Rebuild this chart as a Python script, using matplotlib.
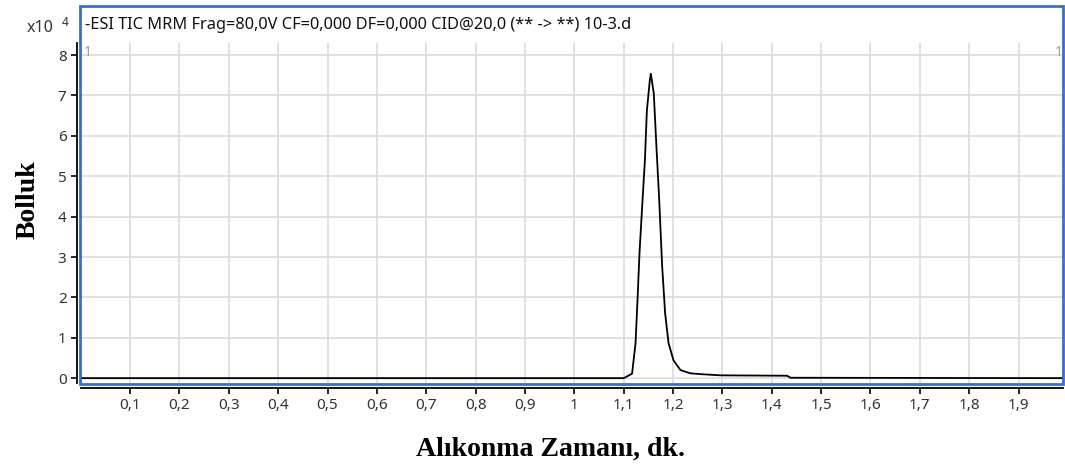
import matplotlib.pyplot as plt
from matplotlib.patches import Rectangle
from matplotlib.ticker import FuncFormatter

# chromatogram (abundance in x10^4)
time_min = [0.0, 1.100, 1.117, 1.124, 1.128, 1.132, 1.137, 1.143, 1.147, 1.153, 1.155,
            1.161, 1.166, 1.172, 1.178, 1.184, 1.191, 1.201, 1.215, 1.235, 1.255,
            1.296, 1.431, 1.438, 1.99]
abundance = [0.0, 0.0, 0.11, 0.86, 1.93, 3.09, 4.16, 5.40, 6.63, 7.38, 7.54,
             7.05, 5.82, 4.41, 2.76, 1.60, 0.86, 0.44, 0.20, 0.12, 0.10,
             0.07, 0.06, 0.01, 0.0]

x_ticks = [0.1, 0.2, 0.3, 0.4, 0.5, 0.6, 0.7, 0.8, 0.9, 1.0,
           1.1, 1.2, 1.3, 1.4, 1.5, 1.6, 1.7, 1.8, 1.9]
y_ticks = [0, 1, 2, 3, 4, 5, 6, 7, 8]

title = "-ESI TIC MRM Frag=80,0V CF=0,000 DF=0,000 CID@20,0 (** -> **) 10-3.d"

W, H = 1065, 466
fig = plt.figure(figsize=(W / 100, H / 100), dpi=100)

# axes placed in pixel terms
left, right, top, bottom = 80.7, 1063, 43, 383
ax = fig.add_axes([left / W, (H - bottom) / H, (right - left) / W, (bottom - top) / H])

ax.plot(time_min, abundance, color='black', linewidth=1.3)
ax.set_xlim(0, 1.99)
ax.set_ylim(-0.12, 8.3)

ax.set_xticks(x_ticks)
ax.set_yticks(y_ticks)
ax.grid(True, color='#dddddd', linewidth=1.3)
ax.set_axisbelow(True)

comma = FuncFormatter(lambda v, p: ('%g' % round(v, 2)).replace('.', ','))
ax.xaxis.set_major_formatter(comma)
ax.yaxis.set_major_formatter(comma)

for s in ['top', 'right']:
    ax.spines[s].set_visible(False)
ax.spines['left'].set_position(('outward', 2.7))
ax.spines['bottom'].set_position(('outward', 3.6))
ax.spines['left'].set_linewidth(1.3)
ax.spines['bottom'].set_linewidth(1.3)
ax.tick_params(axis='both', direction='out', length=4, width=1.2, color='black',
               labelsize=11, labelcolor='#333333')
for lbl in ax.get_xticklabels() + ax.get_yticklabels():
    lbl.set_fontfamily('Noto Sans')

# blue panel frame
fig.add_artist(Rectangle((80 / W, (H - 384) / H), (1063 - 80) / W, (384 - 6) / H,
                         transform=fig.transFigure, fill=False,
                         edgecolor='#3a6fc4', linewidth=2))

fig.text(85 / W, 1 - 25 / H, title, fontsize=11.8, family='Noto Sans',
         color='#111111', va='center', ha='left')
fig.text(27 / W, 1 - 28 / H, 'x10', fontsize=11.5, family='Noto Sans',
         color='#333333', va='center', ha='left')
fig.text(62 / W, 1 - 23 / H, '4', fontsize=8.5, family='Noto Sans',
         color='#333333', va='center', ha='left')
fig.text(84 / W, 1 - 52 / H, '1', fontsize=10, family='Noto Sans',
         color='#999999', va='center', ha='left')
fig.text(1063 / W, 1 - 52 / H, '1', fontsize=10, family='Noto Sans',
         color='#999999', va='center', ha='right')

fig.text(551 / W, 1 - 449 / H, 'Alıkonma Zamanı, dk.', fontsize=20,
         family='Liberation Serif', weight='bold', ha='center', va='center')
fig.text(28 / W, 1 - 200 / H, 'Bolluk', fontsize=20, family='Liberation Serif',
         weight='bold', rotation=90, ha='center', va='center')

plt.savefig('out.png', dpi=100)
plt.close()
